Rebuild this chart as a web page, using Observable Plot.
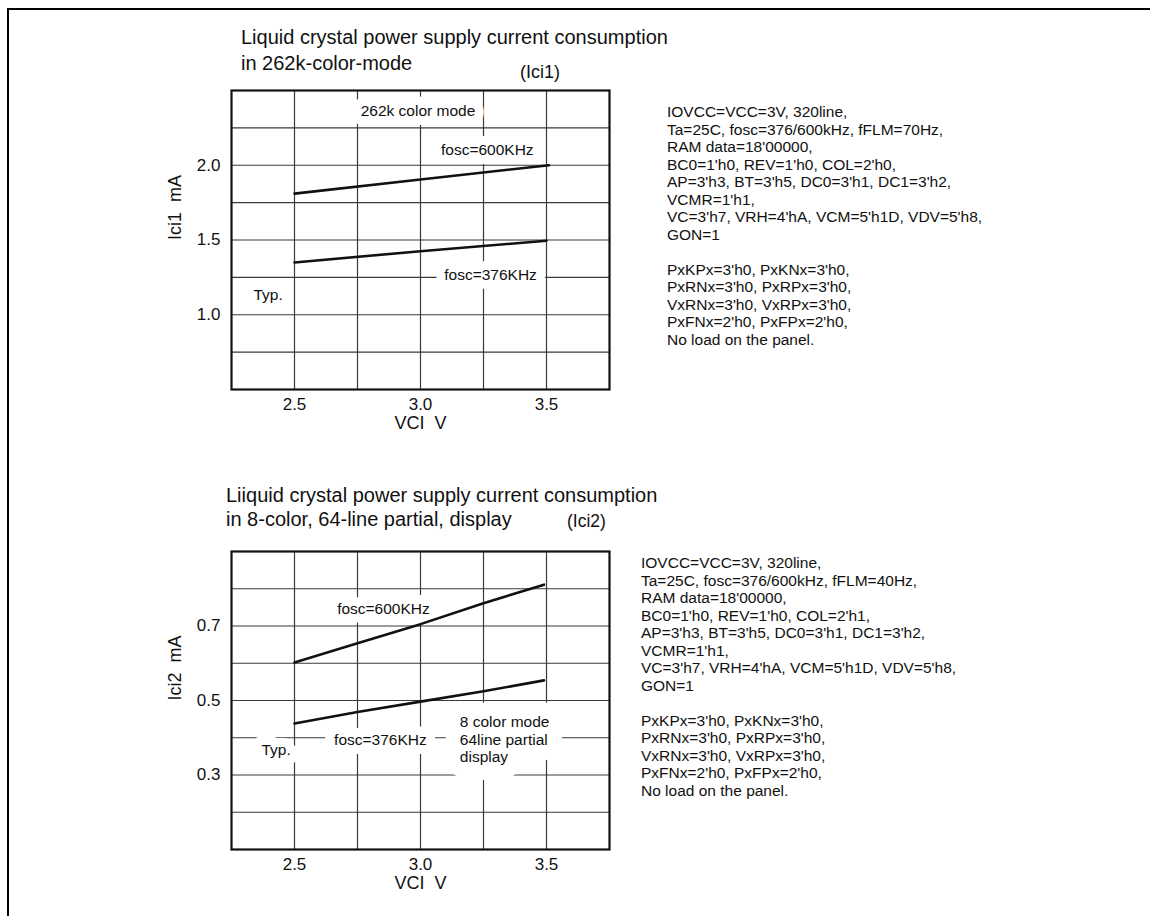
<!DOCTYPE html>
<html><head><meta charset="utf-8">
<script src="https://cdn.jsdelivr.net/npm/d3@7"></script>
<script src="https://cdn.jsdelivr.net/npm/@observablehq/plot@0.6"></script>
<style>
body{margin:0;background:#fff;font-family:"Liberation Sans",Arial,sans-serif;color:#111}
#page{position:relative;width:1150px;height:916px;overflow:hidden;background:#fff}
.abs{position:absolute;white-space:pre}
.plot{position:absolute;left:0}
#border{position:absolute;left:7px;top:8px;width:1200px;height:1000px;border-left:2.5px solid #000;border-top:2.5px solid #000}
.title{font-size:20px;line-height:24px}
.note{font-size:15.5px;line-height:17.5px}
</style></head><body><div id="page">
<div id="border"></div>
<div class="abs title" id="t1a" style="left:241px;top:25px"></div>
<div class="abs title" id="t1b" style="left:241px;top:51px"></div>
<div class="abs" id="p1" style="left:520px;top:62px;font-size:18px;line-height:20px"></div>
<div class="abs note" id="n1" style="left:667px;top:103px"></div>
<div class="abs title" id="t2a" style="left:226px;top:483px"></div>
<div class="abs title" id="t2b" style="left:226px;top:507px"></div>
<div class="abs" id="p2" style="left:567px;top:511px;font-size:17.5px;line-height:20px"></div>
<div class="abs note" id="n2" style="left:641px;top:554px"></div>
<div class="plot" id="c1" style="top:0px"></div>
<div class="plot" id="c2" style="top:460px"></div>
</div>
<script>
// ---- data ----
const xTicks = [2.5, 3.0, 3.5];
const xGrid = [2.5, 2.75, 3.0, 3.25, 3.5];

// chart 1 (Ici1, 262k color mode)
const top600X = [2.5, 3.0, 3.51];
const top600Y = [1.81, 1.905, 2.0];
const top376X = [2.5, 3.0, 3.5];
const top376Y = [1.35, 1.425, 1.495];
const top1Ticks = [1.0, 1.5, 2.0];
const top1Grid = [0.75, 1.0, 1.25, 1.5, 1.75, 2.0, 2.25];

// chart 2 (Ici2, 8-color partial)
const bot600X = [2.5, 2.75, 3.0, 3.25, 3.49];
const bot600Y = [0.602, 0.654, 0.705, 0.761, 0.811];
const bot376X = [2.5, 2.75, 3.0, 3.25, 3.49];
const bot376Y = [0.438, 0.469, 0.497, 0.525, 0.554];
const bot2Ticks = [0.3, 0.5, 0.7];
const bot2Grid = [0.2, 0.3, 0.4, 0.5, 0.6, 0.7, 0.8];

const title1 = ["Liquid crystal power supply current consumption", "in 262k-color-mode"];
const title2 = ["Liiquid crystal power supply current consumption", "in 8-color, 64-line partial, display"];
const tag1 = "(Ici1)";
const tag2 = "(Ici2)";

const notes1 = [
  "IOVCC=VCC=3V, 320line,",
  "Ta=25C, fosc=376/600kHz, fFLM=70Hz,",
  "RAM data=18'00000,",
  "BC0=1'h0, REV=1'h0, COL=2'h0,",
  "AP=3'h3, BT=3'h5, DC0=3'h1, DC1=3'h2,",
  "VCMR=1'h1,",
  "VC=3'h7, VRH=4'hA, VCM=5'h1D, VDV=5'h8,",
  "GON=1",
  "",
  "PxKPx=3'h0, PxKNx=3'h0,",
  "PxRNx=3'h0, PxRPx=3'h0,",
  "VxRNx=3'h0, VxRPx=3'h0,",
  "PxFNx=2'h0, PxFPx=2'h0,",
  "No load on the panel."
];
const notes2 = [
  "IOVCC=VCC=3V, 320line,",
  "Ta=25C, fosc=376/600kHz, fFLM=40Hz,",
  "RAM data=18'00000,",
  "BC0=1'h0, REV=1'h0, COL=2'h1,",
  "AP=3'h3, BT=3'h5, DC0=3'h1, DC1=3'h2,",
  "VCMR=1'h1,",
  "VC=3'h7, VRH=4'hA, VCM=5'h1D, VDV=5'h8,",
  "GON=1",
  "",
  "PxKPx=3'h0, PxKNx=3'h0,",
  "PxRNx=3'h0, PxRPx=3'h0,",
  "VxRNx=3'h0, VxRPx=3'h0,",
  "PxFNx=2'h0, PxFPx=2'h0,",
  "No load on the panel."
];

// ---- text blocks ----
document.getElementById("t1a").textContent = title1[0];
document.getElementById("t1b").textContent = title1[1];
document.getElementById("t2a").textContent = title2[0];
document.getElementById("t2b").textContent = title2[1];
document.getElementById("p1").textContent = tag1;
document.getElementById("p2").textContent = tag2;
document.getElementById("n1").textContent = notes1.join("\n");
document.getElementById("n2").textContent = notes2.join("\n");

const FONT = "Liberation Sans, Arial, sans-serif";
const INK = "#111";
const GRID = "#3a3a3a";

function rows(xs, ys, s) { return xs.map((x, i) => ({x, y: ys[i], s})); }

// white knock-out behind a label, then the label itself on top
function labelPair(items, extra = {}, haloWidth = 18) {
  const base = {x: "x", y: "y", text: "t", fontSize: 15.5, fontFamily: FONT, ...extra};
  return [
    Plot.text(items, {...base, fill: "white", stroke: "white", strokeWidth: haloWidth, strokeLinejoin: "round"}),
    Plot.text(items, {...base, fill: INK})
  ];
}

function chart({marginTop, yDomain, yTicks, yGrid, yLabel, lines, labels, labelsLeft}) {
  return Plot.plot({
    width: 650, height: 450,
    marginLeft: 231, marginRight: 41, marginTop, marginBottom: 61,
    style: {fontFamily: FONT, fontSize: "17px", color: INK, background: "transparent", overflow: "visible"},
    x: {domain: [2.25, 3.75], ticks: xTicks, tickFormat: ".1f", tickSize: 0, tickPadding: 8, label: null},
    y: {domain: yDomain, ticks: yTicks, tickFormat: ".1f", tickSize: 0, tickPadding: 11, label: null},
    marks: [
      Plot.gridX(xGrid, {stroke: GRID, strokeOpacity: 1, strokeWidth: 1.2}),
      Plot.gridY(yGrid, {stroke: GRID, strokeOpacity: 1, strokeWidth: 1.2}),
      ...labelPair(labels),
      ...(labelsLeft ? labelPair(labelsLeft, {textAnchor: "start", lineHeight: 1.14}, 30) : []),
      Plot.line(lines, {x: "x", y: "y", z: "s", stroke: INK, strokeWidth: 2.6}),
      Plot.frame({stroke: INK, strokeWidth: 2.2}),
      Plot.text([yLabel], {frameAnchor: "left", dx: -56, rotate: -90, fontSize: 18, fill: INK}),
      Plot.text(["VCI\u00a0\u00a0V"], {frameAnchor: "bottom", dy: 34, lineAnchor: "middle", fontSize: 18, fill: INK})
    ]
  });
}

document.getElementById("c1").append(chart({
  marginTop: 90,
  yDomain: [0.5, 2.5], yTicks: top1Ticks, yGrid: top1Grid,
  yLabel: "Ici1\u00a0\u00a0mA",
  lines: [...rows(top600X, top600Y, "600"), ...rows(top376X, top376Y, "376")],
  labels: [
    {t: "262k color mode", x: 2.99, y: 2.362},
    {t: "fosc=600KHz", x: 3.265, y: 2.105},
    {t: "fosc=376KHz", x: 3.278, y: 1.263},
    {t: "Typ.", x: 2.395, y: 1.129}
  ]
}));

document.getElementById("c2").append(chart({
  marginTop: 91,
  yDomain: [0.1, 0.9], yTicks: bot2Ticks, yGrid: bot2Grid,
  yLabel: "Ici2\u00a0\u00a0mA",
  lines: [...rows(bot600X, bot600Y, "600"), ...rows(bot376X, bot376Y, "376")],
  labels: [
    {t: "fosc=600KHz", x: 2.853, y: 0.746},
    {t: "fosc=376KHz", x: 2.841, y: 0.395},
    {t: "Typ.", x: 2.427, y: 0.366}
  ],
  labelsLeft: [
    {t: "8 color mode\n64line partial\ndisplay", x: 3.156, y: 0.397}
  ]
}));
</script>
</body></html>
